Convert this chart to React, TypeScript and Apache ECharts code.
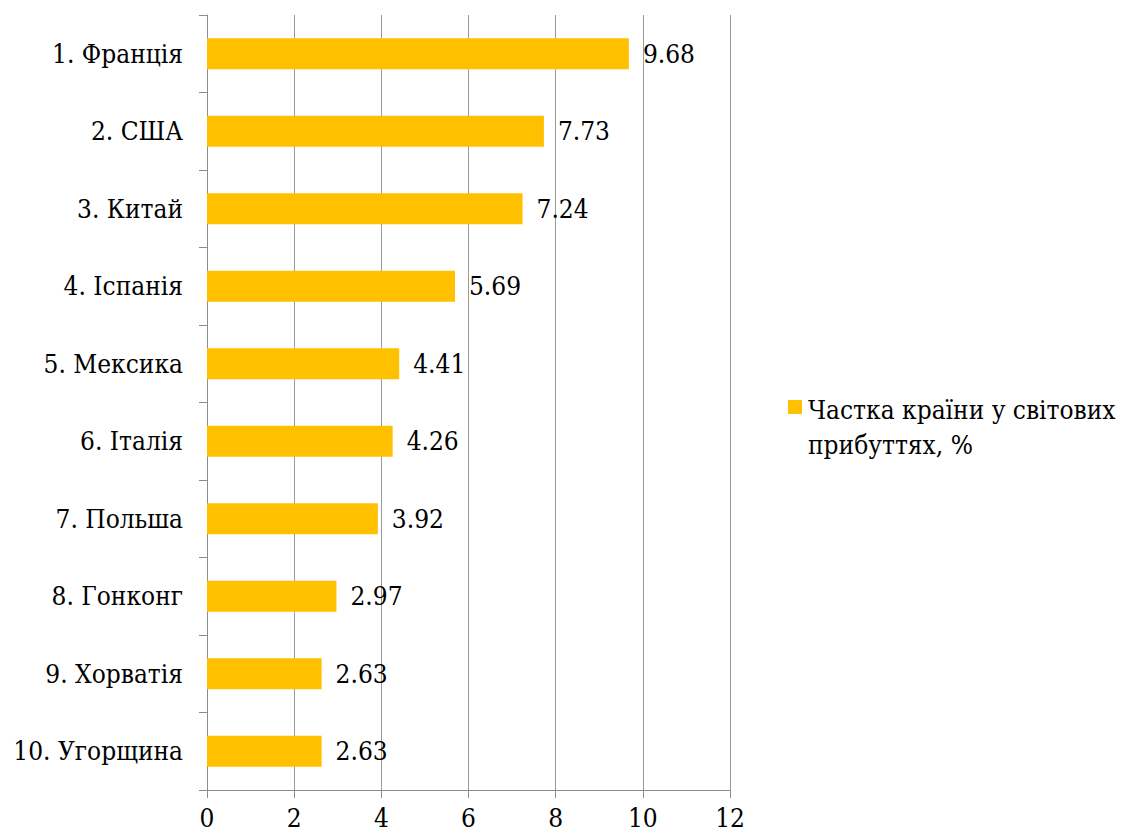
import React, { useEffect, useRef } from "react";
import * as echarts from "echarts";

const categories = [
  "1. Франція",
  "2. США",
  "3. Китай",
  "4. Іспанія",
  "5. Мексика",
  "6. Італія",
  "7. Польша",
  "8. Гонконг",
  "9. Хорватія",
  "10. Угорщина",
];
const values = [9.68, 7.73, 7.24, 5.69, 4.41, 4.26, 3.92, 2.97, 2.63, 2.63];
const seriesName = "Частка країни у світових прибуттях, %";
const legendLines = "Частка країни у світових\nприбуттях, %";
const xTicks = { min: 0, max: 12, interval: 2 };

const FONT = "DejaVu Serif Condensed";

export default function App() {
  const ref = useRef<HTMLDivElement>(null);
  useEffect(() => {
    document.body.style.margin = "0";
    if (!ref.current) return;
    const chart = echarts.init(ref.current, undefined, { renderer: "svg" });
    chart.setOption({
      animation: false,
      backgroundColor: "#ffffff",
      grid: { left: 207, right: 391, top: 15, bottom: 46, containLabel: false, outerBoundsMode: "none" },
      legend: { show: false, data: [seriesName] },
      graphic: [
        { type: "rect", left: 788, top: 400, shape: { width: 14, height: 14 }, style: { fill: "#FFC000" } },
        {
          type: "text",
          left: 808,
          top: 392,
          style: { text: legendLines, fontFamily: FONT, fontSize: 26, lineHeight: 35, fill: "#000" },
        },
      ],
      xAxis: {
        type: "value",
        min: xTicks.min,
        max: xTicks.max,
        interval: xTicks.interval,
        axisLine: { show: true, lineStyle: { color: "#8c8c8c", width: 1 } },
        axisTick: { show: true, length: 8, lineStyle: { color: "#8c8c8c" } },
        axisLabel: { fontFamily: FONT, fontSize: 26, color: "#000", margin: 15 },
        splitLine: { show: true, lineStyle: { color: "#9a9a9a", width: 1 } },
      },
      yAxis: {
        type: "category",
        data: categories,
        inverse: true,
        axisLine: { show: true, lineStyle: { color: "#8c8c8c", width: 1 } },
        axisTick: { show: true, length: 8, alignWithLabel: false, lineStyle: { color: "#8c8c8c" } },
        axisLabel: { fontFamily: FONT, fontSize: 26, color: "#000", margin: 24 },
        splitLine: { show: false },
      },
      series: [
        {
          name: seriesName,
          type: "bar",
          data: values,
          barWidth: "40%",
          itemStyle: { color: "#FFC000" },
          label: {
            show: true,
            position: "right",
            distance: 14,
            fontFamily: FONT,
            fontSize: 26,
            color: "#000",
            formatter: (p: any) => p.value.toFixed(2),
          },
        },
      ],
    });
    return () => chart.dispose();
  }, []);
  return <div ref={ref} style={{ width: 1121, height: 836 }} />;
}
